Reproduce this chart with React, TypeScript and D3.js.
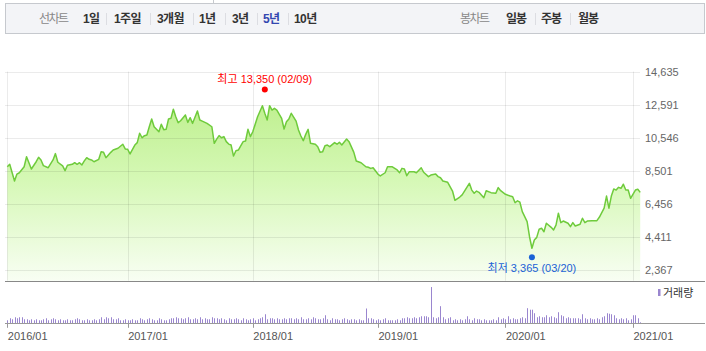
import React from "react";
import * as d3 from "d3";

// tabs on the header bar
const periodTabs = ["1일", "1주일", "3개월", "1년", "3년", "5년", "10년"];
const activePeriod = "5년";
const candleTabs = ["일봉", "주봉", "월봉"];

// y axis tick labels (price)
const priceTicks = [14635, 12591, 10546, 8501, 6456, 4411, 2367];

// x axis: year labels and the week index where each starts
const yearLabels = ["2016/01", "2017/01", "2018/01", "2019/01", "2020/01", "2021/01"];
const yearWeeks = [0, 50, 102, 154, 207, 260];

// weekly closing price (week index, value)
const priceWeeks = [
  0, 1, 3, 4, 5, 7, 8, 10, 12, 13, 14, 15, 17, 19, 20, 21, 23, 24, 25, 27,
  28, 29, 30, 31, 32, 33, 34, 35, 36, 38, 39, 40, 41, 43, 44, 46, 48, 49, 50, 51,
  53, 54, 55, 56, 57, 58, 59, 60, 61, 63, 64, 65, 66, 67, 68, 69, 70, 71, 72, 74,
  75, 76, 77, 79, 80, 81, 83, 85, 86, 87, 88, 89, 90, 91, 92, 93, 94, 95, 96, 98,
  99, 100, 101, 102, 104, 106, 107, 108, 109, 110, 111, 112, 114, 115, 116, 117, 118, 120, 121, 122,
  123, 124, 125, 126, 128, 129, 130, 131, 132, 133, 134, 136, 137, 138, 139, 141, 142, 144, 145, 147,
  149, 150, 151, 152, 154, 155, 157, 158, 160, 162, 163, 164, 165, 166, 167, 169, 170, 172, 173, 175,
  176, 178, 179, 180, 181, 183, 185, 186, 188, 189, 192, 193, 194, 195, 196, 198, 199, 201, 203, 204,
  205, 207, 209, 210, 211, 212, 213, 214, 216, 217, 218, 219, 220, 221, 222, 223, 224, 226, 227, 228,
  229, 230, 231, 233, 234, 235, 236, 238, 239, 240, 241, 243, 245, 246, 248, 249, 250, 251, 252, 253,
  254, 255, 256, 257, 258, 259, 261, 262, 263,
];
const priceClose = [
  8760, 8910, 7880, 8310, 8390, 8760, 9380, 8620, 9070, 9340, 9180, 8830, 8700, 9180, 9570, 9040, 8810, 8520, 8850, 8910,
  9010, 8910, 9010, 8870, 9120, 9320, 9220, 9180, 9070, 9220, 9690, 9650, 9320, 9650, 9790, 9900, 10150, 9860, 9840, 9550,
  10100, 10250, 10830, 10550, 10680, 10720, 11230, 11710, 11230, 10920, 11380, 11050, 11070, 11710, 11750, 12310, 11850, 11480, 11600, 11960,
  11500, 11790, 11440, 12200, 11650, 11580, 11440, 11230, 10210, 10470, 10680, 10550, 10620, 10310, 10160, 10100, 9420, 9750, 9790, 10310,
  10350, 11070, 10620, 10920, 11850, 12530, 12060, 11650, 12530, 12260, 12370, 12260, 11750, 11090, 11540, 11710, 12060, 11580, 11030, 10660,
  10370, 10760, 11070, 10210, 10150, 10000, 9650, 9680, 10060, 10100, 10000, 10250, 10150, 10270, 10100, 10470, 10310, 9650, 9120, 9010,
  8760, 8730, 8660, 8700, 8310, 8190, 8390, 8760, 8760, 8560, 8390, 8660, 8620, 8210, 8450, 8450, 8390, 8700, 8420, 8150,
  8250, 8310, 8150, 8080, 7880, 7800, 7260, 6690, 6890, 7020, 7740, 7320, 7120, 7260, 7180, 6850, 7280, 7160, 7120, 7470,
  7280, 7060, 6950, 6910, 6540, 6660, 6570, 5990, 5370, 4440, 3730, 4240, 4400, 4900, 4960, 4750, 5270, 5020, 4860, 5160,
  5890, 5310, 5410, 5270, 5060, 5310, 5100, 5210, 5580, 5310, 5410, 5430, 5430, 5640, 6200, 6950, 6200, 6950, 7390, 7320,
  7490, 7430, 7680, 7320, 7320, 6810, 7320, 7370, 7180,
];

// weekly volume (thousand shares), one per week from week 0
const volume = [
  300, 500, 400, 600, 500, 600, 600, 400, 400, 300, 400,
  300, 400, 300, 300, 400, 500, 300, 400, 500, 400,
  300, 400, 300, 300, 400, 300, 300, 400, 500, 400,
  300, 300, 400, 300, 300, 400, 300, 400,
  600, 400, 600, 500, 600, 400, 400, 500,
  300, 300, 400, 300, 300, 400, 300, 300, 500, 400,
  300, 400, 500, 400, 300, 300, 500, 400, 300, 300, 400,
  500, 500, 600, 500, 500, 400, 500, 600, 400,
  400, 500, 400, 600, 400, 500, 400, 400, 600, 500, 500, 400, 500, 400,
  300, 500, 400, 400, 500, 400, 300, 500, 400, 300,
  400, 500, 300, 400, 500, 600,
  900,
  400, 500, 500, 400, 500, 400, 400, 500, 400, 500, 500, 400, 500,
  400, 600, 400, 400, 500, 400, 600, 500, 400, 400, 500,
  800,
  400, 300, 500, 400, 400, 300, 400, 500, 400, 300, 400,
  400, 300, 400, 300, 300,
  1470,
  500, 500, 400,
  300, 400, 300, 400, 500, 300,
  300, 300, 300, 400, 300,
  500, 500, 600, 500, 500, 600, 500,
  600, 700, 700, 700,
  600, 3600,
  600, 500, 600,
  1700,
  600, 400, 500, 600, 300,
  400, 300, 400, 300, 400,
  700,
  400, 300, 500, 400, 400, 300, 400,
  300, 300, 300, 400, 300,
  600,
  400, 500, 400,
  700,
  400, 500, 400, 400, 500, 600, 500,
  1500,
  1350, 1350,
  1000,
  600, 700, 600, 600,
  800,
  600, 700, 600, 500,
  1100,
  800, 700, 500, 600,
  500, 500, 500, 500, 400,
  900,
  500, 400, 500, 400, 400, 500, 400,
  600,
  700,
  1000, 950, 900, 800,
  500, 400, 500, 400, 500, 300, 400,
  800, 800,
  500, 100,
];

const highWeek = 107;
const highValue = 13350;
const highLabel = "최고 13,350 (02/09)";
const lowWeek = 218;
const lowValue = 3365;
const lowLabel = "최저 3,365 (03/20)";
const volumeLabel = "거래량";

type Pt = { w: number; v: number };

const FONT = "'Liberation Sans', 'Noto Sans CJK KR', sans-serif";

function App() {
  const width = 706;
  const height = 351;

  // layout
  const priceTop = 71.6;
  const priceBottom = 270.3;
  const panelLine = 280.7;
  const volBase = 323.3;
  const gridLeft = 5;
  const gridRight = 640;

  const x = d3
    .scaleLinear()
    .domain([yearWeeks[0], yearWeeks[yearWeeks.length - 1]])
    .range([7.3, 633]);

  const y = d3
    .scaleLinear()
    .domain([d3.min(priceTicks) as number, d3.max(priceTicks) as number])
    .range([priceBottom, priceTop]);

  const yVol = d3.scaleLinear().domain([0, 4200]).range([volBase, 281]);

  const points: Pt[] = priceWeeks.map((w, i) => ({ w, v: priceClose[i] }));

  const line = d3
    .line<Pt>()
    .x((d) => x(d.w))
    .y((d) => y(d.v));

  const area = d3
    .area<Pt>()
    .x((d) => x(d.w))
    .y0(panelLine)
    .y1((d) => y(d.v));

  // header tab positions (layout only)
  const periodX = [83, 114, 157, 199, 232, 263, 294];
  const periodSepX = [106, 150, 193, 225, 257, 288];
  const candleX = [506, 541, 578];
  const candleSepX = [535, 570];
  const tabSpacing = -0.6;

  return (
    <div style={{ position: "absolute", left: 0, top: 0 }}>
      <svg width={width} height={height} style={{ display: "block", fontFamily: FONT }}>
        <rect x={0} y={0} width={width} height={height} fill="#fff" />

        {/* header bar */}
        <line x1={213.5} x2={213.5} y1={0} y2={4} stroke="#c6c9ce" />
        <rect x={5.5} y={3.5} width={699} height={30} fill="#f3f4f7" stroke="#c6c9ce" />
        <text x={39} y={23} fontSize={12} fill="#888" letterSpacing={-1.5}>선차트</text>
        {periodTabs.map((t, i) => (
          <text
            key={t}
            x={periodX[i]}
            y={23}
            fontSize={12}
            fontWeight="bold"
            letterSpacing={tabSpacing}
            fill={t === activePeriod ? "#3347b0" : "#333"}
          >
            {t}
          </text>
        ))}
        {periodSepX.map((sx) => (
          <line key={sx} x1={sx + 0.5} x2={sx + 0.5} y1={13} y2={25} stroke="#dcdde2" />
        ))}
        <text x={460} y={23} fontSize={12} fill="#888" letterSpacing={-1.5}>봉차트</text>
        {candleTabs.map((t, i) => (
          <text key={t} x={candleX[i]} y={23} fontSize={12} fontWeight="bold" letterSpacing={-1} fill="#333">
            {t}
          </text>
        ))}
        {candleSepX.map((sx) => (
          <line key={sx} x1={sx + 0.5} x2={sx + 0.5} y1={13} y2={25} stroke="#dcdde2" />
        ))}

        <defs>
          <linearGradient id="fillGrad" gradientUnits="userSpaceOnUse" x1={0} y1={95} x2={0} y2={panelLine}>
            <stop offset="0%" stopColor="#bdef8c" />
            <stop offset="45%" stopColor="#d5f8b5" />
            <stop offset="100%" stopColor="#f8fef3" />
          </linearGradient>
        </defs>

        {/* price area + line */}
        <path d={area(points) || ""} fill="url(#fillGrad)" />

        {/* grid */}
        {priceTicks.map((t) => (
          <line
            key={t}
            x1={gridLeft}
            x2={gridRight}
            y1={Math.round(y(t)) + 0.5}
            y2={Math.round(y(t)) + 0.5}
            stroke="#000"
            strokeOpacity={0.08}
          />
        ))}
        {yearWeeks.map((w) => (
          <line
            key={w}
            x1={Math.round(x(w)) + 0.5}
            x2={Math.round(x(w)) + 0.5}
            y1={priceTop}
            y2={panelLine}
            stroke="#000"
            strokeOpacity={0.08}
          />
        ))}

        <path d={line(points) || ""} fill="none" stroke="#6fcb3c" strokeWidth={1.5} strokeLinejoin="round" />

        {/* y labels */}
        {priceTicks.map((t) => (
          <text key={t} x={645} y={y(t) + 4} fontSize={11} fill="#666">
            {d3.format(",")(t)}
          </text>
        ))}

        {/* high / low markers */}
        <circle cx={x(highWeek)} cy={y(highValue) - 3} r={3} fill="#f00" />
        <text x={x(highWeek)} y={y(highValue) - 9.5} fontSize={11} fill="#f00" textAnchor="middle">
          {highLabel}
        </text>
        <circle cx={x(lowWeek)} cy={y(lowValue) + 3} r={3} fill="#1a62d6" />
        <text x={x(lowWeek)} y={y(lowValue) + 17.5} fontSize={11} fill="#1a62d6" textAnchor="middle">
          {lowLabel}
        </text>

        {/* panel separator */}
        <line x1={gridLeft} x2={705} y1={Math.round(panelLine) + 0.5} y2={Math.round(panelLine) + 0.5} stroke="#888" />

        {/* volume */}
        {volume.map((v, i) => (
          <rect key={i} x={Math.round(x(i))} y={yVol(v)} width={1} height={volBase - yVol(v)} fill="#9a86cf" />
        ))}
        <rect x={658} y={289} width={2.5} height={7} fill="#9a86cf" />
        <text x={663} y={296.5} fontSize={11} fill="#333">{volumeLabel}</text>

        {/* x axis */}
        <line x1={gridLeft} x2={705} y1={Math.round(volBase) + 0.5} y2={Math.round(volBase) + 0.5} stroke="#999" />
        {yearWeeks.map((w, i) => (
          <g key={w}>
            <line
              x1={Math.round(x(w)) + 0.5}
              x2={Math.round(x(w)) + 0.5}
              y1={volBase}
              y2={volBase + 4.5}
              stroke="#999"
            />
            <text x={x(w) + 0.5} y={339.5} fontSize={11} fill="#555">
              {yearLabels[i]}
            </text>
          </g>
        ))}
      </svg>
    </div>
  );
}

export default App;
